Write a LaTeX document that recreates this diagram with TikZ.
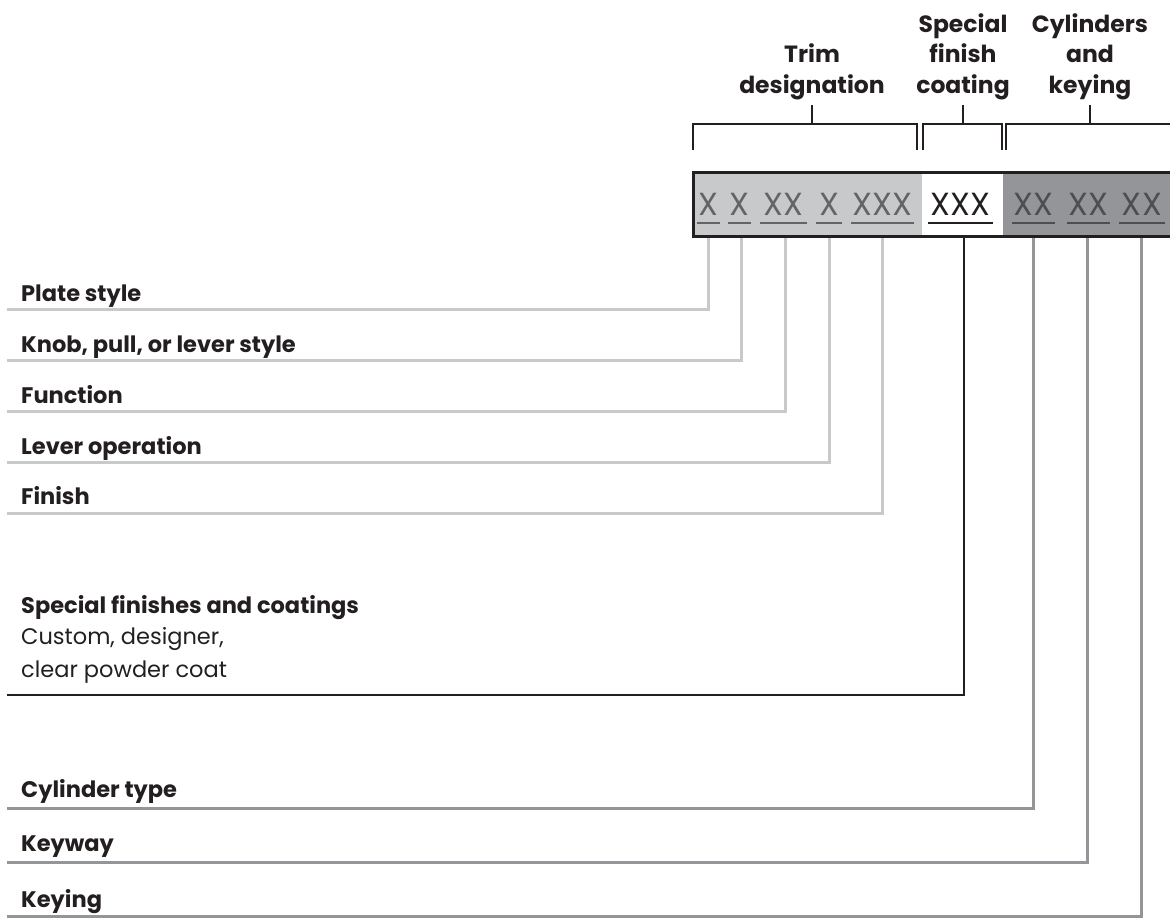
\documentclass[tikz,border=0pt]{standalone}
\usepackage{fontspec}
\setmainfont{Poppins}
\definecolor{ink}{HTML}{231F20}
\definecolor{lightg}{HTML}{C8C9CA}
\definecolor{darkg}{HTML}{939598}
\definecolor{midg}{HTML}{636466}
\definecolor{deepg}{HTML}{4D4E50}
\tikzset{
  heading/.style={font=\fontsize{23.5}{28}\selectfont\bfseries, text=ink, anchor=base, inner sep=0pt},
  lab/.style={font=\fontsize{22.5}{26}\selectfont\bfseries, text=ink, anchor=base west, inner sep=0pt},
  sublab/.style={font=\fontsize{22.5}{26}\selectfont, text=ink, anchor=base west, inner sep=0pt},
  field/.style={font=\fontsize{32}{34}\selectfont\addfontfeatures{LetterSpace=1}, anchor=base, inner sep=0pt},
  bracketline/.style={draw=ink, line width=2.6pt},
  lightline/.style={draw=lightg, line width=3pt},
  darkline/.style={draw=darkg, line width=3pt},
  blackline/.style={draw=ink, line width=2.6pt},
  ul/.style={line width=1.5pt},
}
\begin{document}
\begin{tikzpicture}[x=1pt,y=-1pt]
\useasboundingbox (0,0) rectangle (1170,918);
% box fills
\fill[lightg] (692,171) rectangle (922,235);
\fill[white] (922,171) rectangle (1003,235);
\fill[darkg] (1003,171) rectangle (1180,235);
\node[draw=ink, line width=3pt, minimum width=488pt, minimum height=64pt, inner sep=0pt, anchor=north west] (box) at (692,171) {};
% fields
\node[field, text=midg] (f1) at (708.5,215) {X};
\node[field, text=midg] (f2) at (739.5,215) {X};
\node[field, text=midg] (f3) at (783.5,215) {XX};
\node[field, text=midg] (f4) at (829,215) {X};
\node[field, text=midg] (f5) at (882.5,215) {XXX};
\node[field, text=ink] (f6) at (960.5,215) {XXX};
\node[field, text=deepg] (f7) at (1033.5,215) {XX};
\node[field, text=deepg] (f8) at (1088.5,215) {XX};
\node[field, text=deepg] (f9) at (1142,215) {XX};
% underlines
\draw[ul, midg] (697,223) -- (720,223);
\draw[ul, midg] (728,223) -- (751,223);
\draw[ul, midg] (760,223) -- (807,223);
\draw[ul, midg] (816,223) -- (842,223);
\draw[ul, midg] (851,223) -- (914,223);
\draw[ul, ink] (928,223) -- (993,223);
\draw[ul, deepg] (1012,223) -- (1055,223);
\draw[ul, deepg] (1067,223) -- (1110,223);
\draw[ul, deepg] (1119,223) -- (1165,223);
% brackets
\draw[bracketline] (693,150) -- (693,124) -- (917,124) -- (917,150);
\draw[bracketline] (812,124) -- (812,105);
\draw[bracketline] (923,150) -- (923,124) -- (1002,124) -- (1002,150);
\draw[bracketline] (963,124) -- (963,105);
\draw[bracketline] (1006,150) -- (1006,124) -- (1180,124);
\draw[bracketline] (1090,124) -- (1090,105);
% headings
\node[heading] (h1a) at (812,62) {Trim};
\node[heading] (h1b) at (812,93) {designation};
\node[heading] (h2a) at (963,32) {Special};
\node[heading] (h2b) at (963,62) {finish};
\node[heading] (h2c) at (963,93) {coating};
\node[heading] (h3a) at (1090,32) {Cylinders};
\node[heading] (h3b) at (1090,62) {and};
\node[heading] (h3c) at (1090,93) {keying};
% labels
\node[lab] (l1) at (21,301) {Plate style};
\node[lab] (l2) at (21,352) {Knob, pull, or lever style};
\node[lab] (l3) at (21,403) {Function};
\node[lab] (l4) at (21,454) {Lever operation};
\node[lab] (l5) at (21,504) {Finish};
\node[lab] (l6) at (21,613) {Special finishes and coatings};
\node[sublab] (l6b) at (21,644) {Custom, designer,};
\node[sublab] (l6c) at (21,677) {clear powder coat};
\node[lab] (l7) at (21,797) {Cylinder type};
\node[lab] (l8) at (21,851) {Keyway};
\node[lab] (l9) at (21,907) {Keying};
% line ends
\coordinate (e1) at (7,309);
\coordinate (e2) at (7,360);
\coordinate (e3) at (7,411);
\coordinate (e4) at (7,462);
\coordinate (e5) at (7,513);
\coordinate (e6) at (7,695);
\coordinate (e7) at (7,808);
\coordinate (e8) at (7,862);
\coordinate (e9) at (7,916);
% connectors
\draw[lightline] (f1 |- box.south) ++(-0.5,0) |- (e1);
\draw[lightline] (f2 |- box.south) ++(1.5,0) |- (e2);
\draw[lightline] (f3 |- box.south) ++(1.5,0) |- (e3);
\draw[lightline] (f4 |- box.south) |- (e4);
\draw[lightline] (f5 |- box.south) ++(-0.5,0) |- (e5);
\draw[blackline] (f6 |- box.south) ++(3.5,0) |- (e6);
\draw[darkline] (f7 |- box.south) ++(-0.5,0) |- (e7);
\draw[darkline] (f8 |- box.south) ++(-1.5,0) |- (e8);
\draw[darkline] (f9 |- box.south) ++(-1,0) |- (e9);
\end{tikzpicture}
\end{document}
